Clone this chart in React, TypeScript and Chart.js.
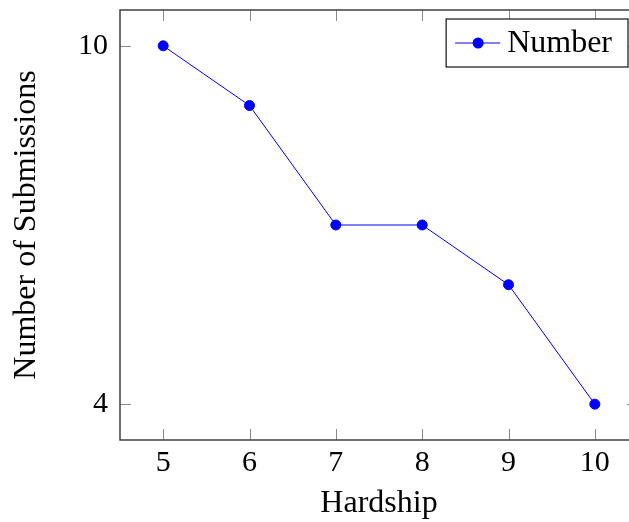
import React, { useEffect, useRef } from "react";
import { Chart, registerables } from "chart.js";

Chart.register(...registerables);

const hardship = [5, 6, 7, 8, 9, 10];
const submissions = [10, 9, 7, 7, 6, 4];
const xTickValues = [5, 6, 7, 8, 9, 10];
const yTickValues = [4, 10];
const seriesLabel = "Number";
const xTitle = "Hardship";
const yTitle = "Number of Submissions";

const FONT = "'Liberation Serif', 'Times New Roman', serif";
const BLUE = "#0000ff";

const framePlugin = {
  id: "pgfFrame",
  afterDatasetsDraw(chart: any) {
    const { ctx, chartArea, scales } = chart;
    const { left, right, top, bottom } = chartArea;
    ctx.save();
    ctx.strokeStyle = "#8a8a8a";
    ctx.lineWidth = 1;
    const tl = 11;
    scales.x.ticks.forEach((t: any) => {
      const px = Math.round(scales.x.getPixelForValue(t.value)) + 0.5;
      ctx.beginPath();
      ctx.moveTo(px, bottom);
      ctx.lineTo(px, bottom - tl);
      ctx.moveTo(px, top);
      ctx.lineTo(px, top + tl);
      ctx.stroke();
    });
    scales.y.ticks.forEach((t: any) => {
      const py = Math.round(scales.y.getPixelForValue(t.value)) + 0.5;
      ctx.beginPath();
      ctx.moveTo(left, py);
      ctx.lineTo(left + tl, py);
      ctx.moveTo(right, py);
      ctx.lineTo(right - tl, py);
      ctx.stroke();
    });
    ctx.strokeStyle = "#333333";
    ctx.lineWidth = 1.4;
    ctx.strokeRect(left, top, right - left, bottom - top);
    ctx.restore();
  },
  afterDraw(chart: any) {
    const { ctx, chartArea } = chart;
    const ds = chart.data.datasets[0];
    ctx.save();
    ctx.font = `32px ${FONT}`;
    const tw = ctx.measureText(ds.label).width;
    const boxRight = chartArea.right - 10;
    const boxTop = chartArea.top + 9;
    const boxW = 61 + tw + 16;
    const boxH = 48;
    const boxLeft = boxRight - boxW;
    ctx.fillStyle = "#ffffff";
    ctx.fillRect(boxLeft, boxTop, boxW, boxH);
    ctx.strokeStyle = "#111111";
    ctx.lineWidth = 1.2;
    ctx.strokeRect(boxLeft, boxTop, boxW, boxH);
    const cy = boxTop + 24;
    ctx.strokeStyle = BLUE;
    ctx.lineWidth = 1;
    ctx.beginPath();
    ctx.moveTo(boxLeft + 9, cy);
    ctx.lineTo(boxLeft + 54, cy);
    ctx.stroke();
    ctx.fillStyle = BLUE;
    ctx.beginPath();
    ctx.arc(boxLeft + 32, cy, 5.5, 0, Math.PI * 2);
    ctx.fill();
    ctx.fillStyle = "#000000";
    ctx.textBaseline = "alphabetic";
    ctx.textAlign = "left";
    ctx.fillText(ds.label, boxLeft + 61, boxTop + 33);
    ctx.restore();
  },
};

export default function App() {
  const ref = useRef<HTMLCanvasElement | null>(null);

  useEffect(() => {
    if (!ref.current) return;
    const chart = new Chart(ref.current, {
      type: "line",
      data: {
        datasets: [
          {
            label: seriesLabel,
            data: hardship.map((x, i) => ({ x, y: submissions[i] })),
            borderColor: BLUE,
            backgroundColor: BLUE,
            borderWidth: 1,
            pointRadius: 5,
            pointBorderWidth: 1,
            pointBackgroundColor: BLUE,
            pointBorderColor: BLUE,
            tension: 0,
            fill: false,
          },
        ],
      },
      options: {
        animation: false,
        responsive: false,
        devicePixelRatio: 1,
        layout: { padding: { top: 10, right: 12, left: 0, bottom: 0 } },
        plugins: {
          legend: { display: false },
          tooltip: { enabled: false },
        },
        scales: {
          x: {
            type: "linear",
            min: 4.5,
            max: 10.5,
            afterBuildTicks: (scale: any) => {
              scale.ticks = xTickValues.map((v) => ({ value: v }));
            },
            afterFit: (scale: any) => {
              scale.height = 82;
              scale.paddingLeft = 0;
              scale.paddingRight = 0;
            },
            grid: { display: false, drawTicks: false },
            border: { display: false },
            ticks: {
              color: "#000",
              font: { family: FONT, size: 30 },
              padding: 5,
              maxRotation: 0,
            },
            title: {
              display: true,
              text: xTitle,
              color: "#000",
              font: { family: FONT, size: 32, lineHeight: 1 },
              padding: { top: 0, bottom: 2 },
            },
          },
          y: {
            type: "linear",
            min: 3.4,
            max: 10.6,
            afterBuildTicks: (scale: any) => {
              scale.ticks = yTickValues.map((v) => ({ value: v }));
            },
            afterFit: (scale: any) => {
              scale.width = 120;
              scale.paddingTop = 0;
              scale.paddingBottom = 0;
            },
            grid: { display: false, drawTicks: false },
            border: { display: false },
            ticks: {
              color: "#000",
              font: { family: FONT, size: 30 },
              padding: 12,
            },
            title: {
              display: true,
              text: yTitle,
              color: "#000",
              font: { family: FONT, size: 32, lineHeight: 1 },
              padding: { top: 11, bottom: 0 },
            },
          },
        },
      },
      plugins: [framePlugin],
    } as any);
    return () => chart.destroy();
  }, []);

  return (
    <div
      style={{
        position: "absolute",
        left: 0,
        top: 0,
        width: 629,
        height: 522,
        overflow: "hidden",
        background: "#fff",
      }}
    >
      <canvas ref={ref} width={650} height={522} style={{ display: "block", width: 650, height: 522 }} />
    </div>
  );
}
